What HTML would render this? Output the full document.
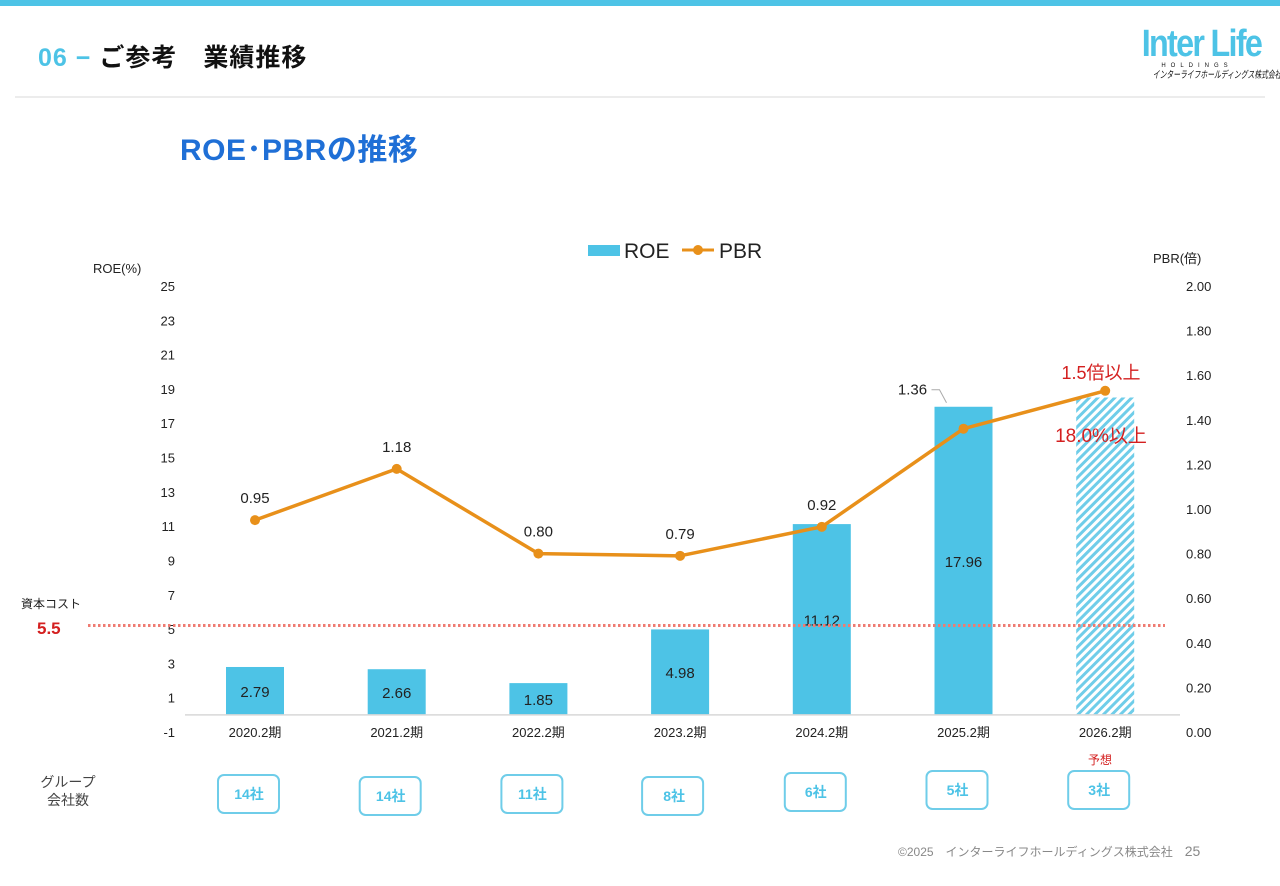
<!DOCTYPE html>
<html><head><meta charset="utf-8">
<style>
body{margin:0;width:1280px;height:886px;background:#fff;overflow:hidden;font-family:"Liberation Sans","Noto Sans CJK JP",sans-serif;position:relative}
.abs{position:absolute}
</style></head>
<body>
<div class="abs" style="left:0;top:0;width:1280px;height:6px;background:#4dc3e6"></div>
<div class="abs" style="left:38px;top:38px;font-size:25px;font-weight:bold;color:#111;white-space:nowrap;letter-spacing:1px"><span style="color:#4dc3e6">06 − </span>ご参考　業績推移</div>
<div class="abs" style="left:1132px;top:26px;width:130px;text-align:center;color:#111;white-space:nowrap">
<div style="font-size:38px;font-weight:bold;color:#4dc3e6;line-height:36px;letter-spacing:-2px;transform:scaleX(0.85);white-space:nowrap">Inter Life</div>
<div style="font-size:6px;letter-spacing:5px;line-height:8px">HOLDINGS</div>
<div style="font-size:10px;font-style:italic;line-height:12px;white-space:nowrap;transform:scaleX(0.68);transform-origin:center">インターライフホールディングス株式会社</div>
</div>
<div class="abs" style="left:15px;top:96px;width:1250px;height:2px;background:#ececec"></div>
<div class="abs" style="left:180px;top:125px;font-size:30px;font-weight:bold;color:#1f6fd6;white-space:nowrap;letter-spacing:0.5px">ROE･PBRの推移</div>

<svg class="abs" style="left:0;top:0" width="1280" height="886" id="chart"></svg>

<div class="abs" style="left:30px;top:773px;width:76px;text-align:center;font-size:14px;color:#444;line-height:18px">グループ<br>会社数</div>
<div class="abs" style="left:1088px;top:751px;font-size:12px;color:#d42020">予想</div>
<div class="abs" style="left:898px;top:843px;font-size:12px;color:#888;white-space:nowrap">©2025　インターライフホールディングス株式会社　<span style="font-size:14px">25</span></div>

<script>
const categories=["2020.2期","2021.2期","2022.2期","2023.2期","2024.2期","2025.2期","2026.2期"];
const roeValues=[2.79,2.66,1.85,4.98,11.12,17.96,18.5];
const roeLabels=["2.79","2.66","1.85","4.98","11.12","17.96",""];
const pbrValues=[0.95,1.18,0.80,0.79,0.92,1.36,1.53];
const pbrLabels=["0.95","1.18","0.80","0.79","0.92","1.36",""];
const companyCounts=["14社","14社","11社","8社","6社","5社","3社"];
const leftTicks=[-1,1,3,5,7,9,11,13,15,17,19,21,23,25];
const rightTicks=[0,0.2,0.4,0.6,0.8,1.0,1.2,1.4,1.6,1.8,2.0];
const capitalCost=5.5;

const NS="http://www.w3.org/2000/svg";
const svg=document.getElementById('chart');
function yL(v){return 732-(v+1)*(446/26);}
function yR(v){return 732-v*223;}
function xC(i){return 255+i*141.7;}
function mk(tag,attrs,parent){const e=document.createElementNS(NS,tag);for(const k in attrs)e.setAttribute(k,attrs[k]);(parent||svg).appendChild(e);return e;}
function txt(x,y,s,attrs,parent){const t=mk('text',Object.assign({x:x,y:y,'font-family':'"Liberation Sans","Noto Sans CJK JP",sans-serif'},attrs),parent);t.textContent=s;return t;}

const defs=mk('defs',{});
const pat=mk('pattern',{id:'hatch',width:6,height:6,patternUnits:'userSpaceOnUse',patternTransform:'rotate(45)'},defs);
mk('rect',{width:6,height:6,fill:'#fff'},pat);
mk('rect',{width:3,height:6,fill:'#6fcde9'},pat);

leftTicks.forEach(v=>{const t=txt(175,yL(v)+5,String(v),{'font-size':13,fill:'#222','text-anchor':'end'});
});
rightTicks.forEach(v=>{const t=txt(1186,yR(v)+5,v.toFixed(2),{'font-size':13,fill:'#222'});
});
let a=txt(93,273,"ROE(%)",{'font-size':13,fill:'#222'});
a=txt(1153,263,"PBR(倍)",{'font-size':13,fill:'#222'});

let g=mk('g',{});
mk('rect',{x:588,y:245,width:32,height:11,fill:'#4dc3e6'},g);txt(624,258,"ROE",{'font-size':21,fill:'#222'},g);
g=mk('g',{});
mk('line',{x1:682,y1:250,x2:714,y2:250,stroke:'#e8901a','stroke-width':3},g);mk('circle',{cx:698,cy:250,r:5,fill:'#e8901a'},g);
txt(719,258,"PBR",{'font-size':21,fill:'#222'},g);

roeValues.forEach((v,i)=>{
 const forecast=i===roeValues.length-1;
 const r=mk('rect',{x:xC(i)-29,y:yL(v),width:58,height:yL(0)-yL(v),fill:forecast?'url(#hatch)':'#4dc3e6'});
 
 if(roeLabels[i]){const t=txt(xC(i),(yL(v)+yL(0))/2+6,roeLabels[i],{'font-size':15,fill:'#222','text-anchor':'middle'});
 }
 const c=txt(xC(i),737,categories[i],{'font-size':13,fill:'#222','text-anchor':'middle'});
 
});
let l=mk('line',{x1:185,y1:yL(0),x2:1180,y2:yL(0),stroke:'#d8d8d8','stroke-width':1.5});


const ccY=yL(capitalCost)+5;
l=mk('line',{x1:88,y1:ccY,x2:1165,y2:ccY,stroke:'#ef7b72','stroke-width':3,'stroke-dasharray':'2.5 2.5'});

a=txt(21,608,"資本コスト",{'font-size':12,fill:'#222'});
a=txt(37,634,String(capitalCost),{'font-size':17,fill:'#d42020','font-weight':'bold'});

const pts=pbrValues.map((v,i)=>xC(i)+','+yR(v)).join(' ');
l=mk('polyline',{points:pts,fill:'none',stroke:'#e8901a','stroke-width':3.5,'stroke-linejoin':'round'});

pbrValues.forEach((v,i)=>{
 const c=mk('circle',{cx:xC(i),cy:yR(v),r:5,fill:'#e8901a'});
 
 if(pbrLabels[i]){
  const lx=i===5?xC(i)-51:xC(i), ly=i===5?yR(v)-34:yR(v)-17;
  const t=txt(lx,ly,pbrLabels[i],{'font-size':15,fill:'#222','text-anchor':'middle'});
  
  if(i===5){mk('polyline',{points:(lx+19)+','+(ly-5)+' '+(lx+27)+','+(ly-5)+' '+(lx+34)+','+(ly+8),fill:'none',stroke:'#aaa','stroke-width':1});}
 }
});
a=txt(1101,379,"1.5倍以上",{'font-size':18,fill:'#d42020','text-anchor':'middle'});
a=txt(1101,442,"18.0%以上",{'font-size':19,fill:'#d42020','text-anchor':'middle'});

const boxY=[775,777,775,777,773,771,771];
companyCounts.forEach((s,i)=>{
 const gg=mk('g',{});
 mk('rect',{x:xC(i)-37+(i===3?-1:0),y:boxY[i],width:61,height:38,rx:6,fill:'#fff',stroke:'#6fcde9','stroke-width':2},gg);
 txt(xC(i)-6,boxY[i]+24,s,{'font-size':14,fill:'#4dc3e6','font-weight':'bold','text-anchor':'middle'},gg);
});
</script>
</body></html>
